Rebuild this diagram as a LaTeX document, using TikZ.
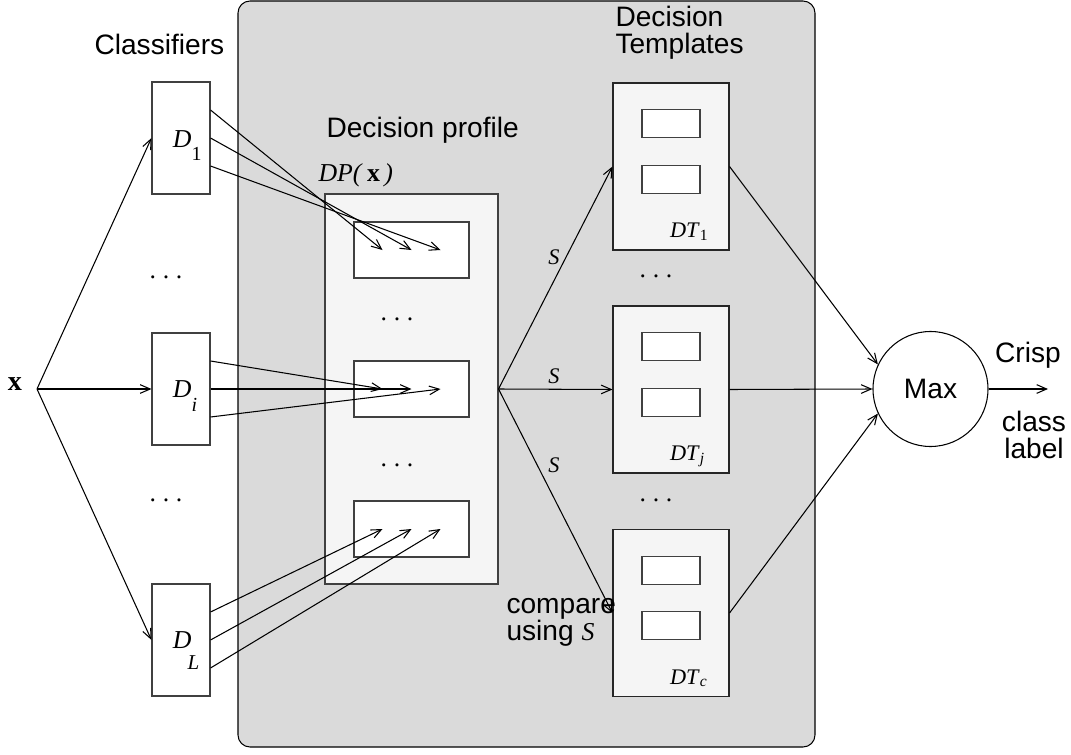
\documentclass[tikz,border=0pt]{standalone}
\usepackage{fontspec}
\setmainfont{Liberation Serif}
\setsansfont{Liberation Sans}
\usetikzlibrary{positioning,calc,arrows.meta}
\definecolor{panelgray}{HTML}{DADADA}
\definecolor{boxfill}{HTML}{F5F5F5}
\newcommand{\vdotsrow}{.\kern0.1cm.\kern0.1cm.}

\begin{document}
\begin{tikzpicture}[
    x=0.015cm, y=-0.015cm, line width=0.45pt,
    arr/.style={-{Straight Barb[length=1.5mm,width=1.3mm]}},
    lbl/.style={font=\sffamily\fontsize{12}{11.5}\selectfont, inner sep=0pt, align=left},
    serif/.style={font=\fontsize{#1}{#1}\selectfont, inner sep=0pt},
    clsbox/.style={draw=black!75, fill=white, minimum width=0.87cm, minimum height=1.68cm, inner sep=0pt},
    dpbox/.style={draw=black!75, fill=boxfill, minimum width=2.595cm, minimum height=5.85cm, inner sep=0pt},
    rowbox/.style={draw=black!75, fill=white, minimum width=1.725cm, minimum height=0.84cm, inner sep=0pt},
    dtbox/.style={draw=black!85, fill=boxfill, minimum width=1.74cm, minimum height=2.505cm, inner sep=0pt},
    cellbox/.style={draw=black!75, fill=white, minimum width=0.87cm, minimum height=0.42cm, inner sep=0pt},
    maxnode/.style={draw, circle, fill=white, minimum size=1.725cm, inner sep=0pt, font=\sffamily\fontsize{12}{12}\selectfont}
]
    \useasboundingbox (0,0) rectangle (1071,755);
    \draw [fill=panelgray, rounded corners=0.18cm] (238,1) rectangle (815,747); % Panel

    % Classifiers
    \node [clsbox] (d1) at (181,138) {};
    \node [clsbox] (di) at (181,389) {};
    \node [clsbox] (dl) at (181,640) {};
    \node [serif=11, anchor=base west] (d1lbl) at ($(d1.west)+(21,9)$) {\textit{D}\raisebox{-0.195cm}{\fontsize{8.5}{8.5}\selectfont 1}};
    \node [serif=11, anchor=base west] (dilbl) at ($(di.west)+(21,8)$) {\textit{D}\raisebox{-0.21cm}{\fontsize{8.5}{8.5}\selectfont\itshape i}};
    \node [serif=11, anchor=base west] (dllbl) at ($(dl.west)+(21,8)$) {\textit{D}\kern-0.06cm\raisebox{-0.315cm}{\fontsize{9}{9}\selectfont\itshape L}};
    \node [serif=11, anchor=base] (cdots1) at (166,278) {\vdotsrow};
    \node [serif=11, anchor=base] (cdots2) at (166,501) {\vdotsrow};
    \node [lbl, anchor=base west] (clshead) at (94,54) {Classifiers};

    % Input
    \node [serif=12, anchor=base] (xlbl) at (15,390) {\textbf{x}};
    \coordinate (xin) at (37,389);
    \foreach \n in {d1,di,dl}
        \draw [arr] (xin) -- (\n.west);

    % Decision profile
    \node [dpbox] (dp) at (411.5,389) {};
    \foreach \r/\y in {r1/250, r2/389, r3/529}
        \node [rowbox] (\r) at (411.5,\y) {};
    \node [serif=11, anchor=base] (pdots1) at (397,320) {\vdotsrow};
    \node [serif=11, anchor=base] (pdots2) at (397,466) {\vdotsrow};
    \node [lbl, anchor=base west] (dphead) at (326,138) {Decision profile};
    \node [serif=11, anchor=base west] (dpx) at (318,181) {\textit{DP(}\,\textbf{x}\,\textit{)}};

    % Classifier outputs into the profile rows
    \foreach \src/\row in {d1/r1, di/r2, dl/r3} {
        \foreach \k in {-1,0,1}
            \draw [arr] ($(\src.east)+(0,28*\k)$) -- ($(\row.center)+(29*\k,0)$);
    }

    % Decision templates
    \foreach \nm/\y/\sub in {dt1/166.5/1, dtj/389.5/\textit{j}, dtc/613/\textit{c}} {
        \node [dtbox] (\nm) at (671,\y) {};
        \node [cellbox] (\nm a) at ($(\nm.north)+(0,41.5)$) {};
        \node [cellbox] (\nm b) at ($(\nm.north)+(0,97)$) {};
        \node [serif=9.5, anchor=base west] (\nm lbl) at ($(\nm.south west)+(57,-13)$) {\textit{DT}\textsubscript{\sub}};
    }
    \node [serif=11, anchor=base] (tdots1) at (656,277) {\vdotsrow};
    \node [serif=11, anchor=base] (tdots2) at (656,501) {\vdotsrow};
    \node [lbl, anchor=base west] (dthead) at (615,53) {Decision\\Templates};

    % Similarity S
    \foreach \nm in {dt1,dtj,dtc}
        \draw [arr] (dp.east) -- (\nm.west);
    \node [serif=9.5] (s1) at (554,257) {\textit{S}};
    \node [serif=9.5] (s2) at (554,376) {\textit{S}};
    \node [serif=9.5] (s3) at (554,465) {\textit{S}};
    \node [lbl, anchor=base west] (cmp) at (506,640) {compare\\using {\rmfamily\itshape\fontsize{11}{11}\selectfont S}};

    % Max
    \node [maxnode] (max) at (930.5,389) {Max};
    \draw [arr] (dt1.east) -- (max.155);
    \draw [arr] (dtj.east) -- (max.west);
    \draw [arr] (dtc.east) -- (max.205);
    \coordinate (out) at (1048,389);
    \draw [arr] (max.east) -- (out);
    \node [lbl, anchor=base] (crisp) at (1028,362) {Crisp};
    \node [lbl, anchor=base, align=center] (clslbl) at (1034,458) {class\\label};
\end{tikzpicture}
\end{document}
